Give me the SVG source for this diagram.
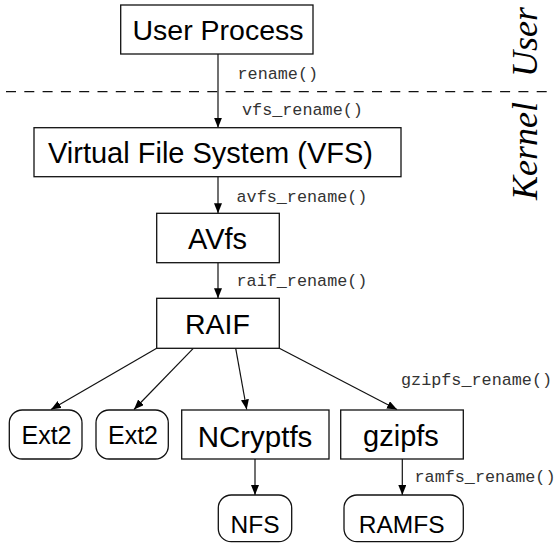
<svg xmlns="http://www.w3.org/2000/svg" width="554" height="543" viewBox="0 0 554 543">
<defs>
<marker id="ah" markerWidth="10" markerHeight="8" refX="10" refY="4" orient="auto" markerUnits="userSpaceOnUse">
<path d="M0,0 L10,4 L0,8 Z" fill="#000"/>
</marker>
<style>
.box{fill:#fff;stroke:#111;stroke-width:1.3}
.t{font-family:"Liberation Sans",Arial,sans-serif;fill:#000;text-anchor:middle}
.lbl{font-family:"Liberation Mono","Courier New",monospace;font-size:16.8px;fill:#333}
.side{font-family:"Liberation Serif","Times New Roman",serif;font-style:italic;fill:#000}
.edge{stroke:#111;stroke-width:1.2;fill:none;marker-end:url(#ah)}
</style>
</defs>
<rect width="554" height="543" fill="#fff"/>
<line x1="6" y1="91.7" x2="554" y2="91.7" stroke="#111" stroke-width="1.2" stroke-dasharray="10 8.3"/>
<text class="side" font-size="36" transform="translate(537,77) rotate(-90)">User</text>
<text class="side" font-size="36" transform="translate(537,200) rotate(-90)">Kernel</text>
<g id="connectors">
<line class="edge" x1="218" y1="54" x2="218" y2="127.7"/>
<line class="edge" x1="218" y1="177" x2="218" y2="213.3"/>
<line class="edge" x1="218" y1="262.7" x2="218" y2="298.3"/>
<line class="edge" x1="156.7" y1="348.3" x2="51" y2="409.5"/>
<line class="edge" x1="193.3" y1="348.3" x2="134" y2="409.5"/>
<line class="edge" x1="235.7" y1="348.3" x2="246.7" y2="409.5"/>
<line class="edge" x1="279.3" y1="348.3" x2="397" y2="409.5"/>
<line class="edge" x1="255" y1="459" x2="255" y2="495"/>
<line class="edge" x1="402.3" y1="459" x2="402.3" y2="495"/>
<text class="lbl" x="237.5" y="79.3">rename()</text>
<text class="lbl" x="242" y="115">vfs_rename()</text>
<text class="lbl" x="236.5" y="201.7">avfs_rename()</text>
<text class="lbl" x="236.5" y="286">raif_rename()</text>
<text class="lbl" x="401" y="385">gzipfs_rename()</text>
<text class="lbl" x="414.5" y="481.7">ramfs_rename()</text>
</g>
<g id="user-process">
<rect class="box" x="120.7" y="5" width="192.3" height="49"/>
<text class="t" x="218" y="40.3" font-size="28.5">User Process</text>
</g>
<g id="vfs">
<rect class="box" x="34" y="127.7" width="367" height="49"/>
<text class="t" x="210.5" y="162.8" font-size="29">Virtual File System (VFS)</text>
</g>
<g id="avfs">
<rect class="box" x="156.7" y="213.3" width="122.6" height="49.4"/>
<text class="t" x="217.5" y="248.5" font-size="29">AVfs</text>
</g>
<g id="raif">
<rect class="box" x="156.7" y="298.3" width="122.6" height="50"/>
<text class="t" x="217.5" y="334" font-size="28.5">RAIF</text>
</g>
<g id="ext2-a">
<rect class="box" x="9.3" y="410" width="72.7" height="49" rx="13"/>
<text class="t" x="46.5" y="444" font-size="25">Ext2</text>
</g>
<g id="ext2-b">
<rect class="box" x="96" y="410" width="72.3" height="49" rx="13"/>
<text class="t" x="133" y="444" font-size="25">Ext2</text>
</g>
<g id="ncryptfs">
<rect class="box" x="181.7" y="410" width="147.3" height="49"/>
<text class="t" x="255" y="447.3" font-size="29.5">NCryptfs</text>
</g>
<g id="gzipfs">
<rect class="box" x="340.7" y="410" width="122.6" height="49"/>
<text class="t" x="401" y="446" font-size="29">gzipfs</text>
</g>
<g id="nfs">
<rect class="box" x="218.3" y="495" width="73.4" height="46.7" rx="13"/>
<text class="t" x="255" y="532.7" font-size="24.5">NFS</text>
</g>
<g id="ramfs">
<rect class="box" x="344" y="495" width="119.3" height="46.7" rx="13"/>
<text class="t" x="401.7" y="532.7" font-size="24.5">RAMFS</text>
</g>
</svg>
